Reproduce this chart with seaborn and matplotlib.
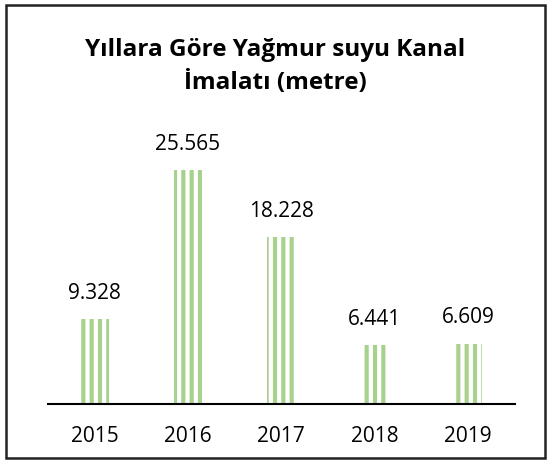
import matplotlib
matplotlib.use("Agg")
import matplotlib.pyplot as plt
import seaborn as sns
import pandas as pd
from matplotlib.patches import Rectangle

years = ["2015", "2016", "2017", "2018", "2019"]
values = [9328, 25565, 18228, 6441, 6609]
labels = ["9.328", "25.565", "18.228", "6.441", "6.609"]

sns.set_style("white")
plt.rcParams["font.family"] = ["Open Sans", "DejaVu Sans"]
plt.rcParams["hatch.linewidth"] = 3

df = pd.DataFrame({"year": years, "value": values})

fig = plt.figure(figsize=(5.5, 4.63), dpi=100)
ax = fig.add_axes([0.087, 0.127, 0.849, 0.549])
sns.barplot(data=df, x="year", y="value", color="#a9d18e", width=0.3,
            saturation=1, ax=ax)
for p in ax.patches:
    p.set_hatch("||")
    p.set_edgecolor("white")
    p.set_linewidth(0)

for i, (v, lab) in enumerate(zip(values, labels)):
    ax.annotate(lab, (i, v), xytext=(0, 11), textcoords="offset points",
                ha="center", va="bottom", fontsize=15, color="black")

ax.set_ylim(0, 27760)
ax.set_xlim(-0.5, 4.5)
ax.set_yticks([])
ax.set_xlabel("")
ax.set_ylabel("")
for s in ["top", "right", "left"]:
    ax.spines[s].set_visible(False)
ax.spines["bottom"].set_linewidth(1.5)
ax.spines["bottom"].set_color("black")
ax.tick_params(axis="x", length=0, labelsize=15, labelcolor="black", pad=16)

fig.text(0.5, 0.857, "Yıllara Göre Yağmur suyu Kanal\nİmalatı (metre)",
         ha="center", va="center", fontsize=17.5, fontweight="bold",
         linespacing=1.5, color="black")

fig.patches.append(Rectangle((0.01, 0.01), 0.98, 0.98, transform=fig.transFigure,
                             fill=False, edgecolor="#222222", linewidth=1.8))

fig.savefig("out.png", dpi=100)
